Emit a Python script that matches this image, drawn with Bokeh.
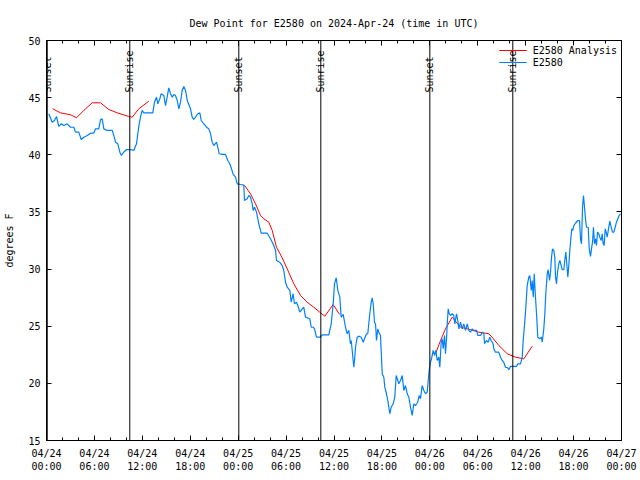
import math
from bokeh.plotting import figure
from bokeh.models import FixedTicker, LinearAxis, Range1d, Legend, LegendItem, Span
from bokeh.embed import file_html
from bokeh.resources import INLINE

FONT = "DejaVu Sans Mono"
NAN = float("nan")

# ---- axis tick data ----
x_tick_hours = [0, 6, 12, 18, 24, 30, 36, 42, 48, 54, 60, 66, 72]
x_tick_dates = ["04/24", "04/24", "04/24", "04/24", "04/25", "04/25", "04/25",
                "04/25", "04/26", "04/26", "04/26", "04/26", "04/27"]
x_tick_times = ["00:00", "06:00", "12:00", "18:00", "00:00", "06:00", "12:00",
                "18:00", "00:00", "06:00", "12:00", "18:00", "00:00"]
x_minor_hours = list(range(0, 73, 2))
y_ticks = [15, 20, 25, 30, 35, 40, 45, 50]

# ---- sunrise / sunset (hours after 2024-04-24 00:00 UTC) ----
sun_events = ["Sunset", "Sunrise", "Sunset", "Sunrise", "Sunset", "Sunrise"]
sun_hours = [0.09, 10.43, 24.08, 34.35, 48.0, 58.39]

# ---- observed dew point E2580 (hours, degF) ----
obs_hours = [
    0.29, 0.71, 1.0, 1.25, 1.54, 1.84, 2.17, 2.59, 3.0, 3.42, 3.63, 4.04, 4.35, 4.67,
    5.1, 5.51, 5.92, 6.14, 6.55, 6.76, 6.97, 7.18, 7.6, 8.23, 8.43, 8.64, 8.93, 9.18,
    9.39, 9.68, 10.02, 10.52, 10.93, 11.27, 11.43, 11.61, 11.77, 11.98, 12.18, 13.02,
    13.31, 13.52, 13.77, 13.94, 14.19, 14.36, 14.69, 14.9, 15.11, 15.31, 15.53, 15.74,
    15.94, 16.15, 16.37, 16.57, 16.78, 16.99, 17.19, 17.41, 17.62, 18.03, 18.24, 18.44,
    18.66, 18.95, 19.2, 19.37, 19.7, 20.04, 20.32, 20.54, 20.75, 20.95, 21.29, 21.45,
    21.63, 22.0, 22.41, 22.7, 22.95, 23.13, 23.38, 23.67, 23.88, 24.29, 24.71, 24.79,
    25.13, 25.33, 25.54, 25.76, 25.88, 26.05, 26.3, 26.46, 26.58, 26.88, 27.64, 28.05,
    28.46, 28.68, 28.8, 29.21, 29.51, 29.71, 29.93, 30.14, 30.47, 30.64, 30.89, 31.05,
    31.3, 31.47, 31.72, 32.02, 32.22, 32.43, 32.97, 33.15, 33.4, 33.56, 33.81, 34.31,
    34.52, 35.35, 35.65, 35.9, 36.06, 36.28, 36.48, 36.73, 36.9, 37.15, 37.44, 37.65,
    37.85, 38.07, 38.16, 38.28, 38.48, 38.57, 38.69, 38.91, 39.11, 39.41, 39.66, 39.82,
    40.07, 40.23, 40.48, 40.66, 40.78, 40.91, 41.07, 41.2, 41.32, 41.48, 41.61, 41.82,
    42.04, 42.24, 42.36, 42.57, 42.74, 42.99, 43.16, 43.41, 43.61, 43.79, 43.99, 44.11,
    44.33, 44.54, 44.74, 44.95, 45.17, 45.37, 45.58, 45.79, 45.99, 46.21, 46.49, 46.67,
    46.83, 47.04, 47.25, 47.46, 47.67, 47.8, 47.92, 48.08, 48.21, 48.42, 48.59, 48.75,
    48.92, 49.12, 49.25, 49.42, 49.55, 49.67, 49.84, 49.96, 50.09, 50.18, 50.3, 50.43,
    50.59, 50.8, 51.0, 51.13, 51.34, 51.5, 51.63, 51.84, 52.05, 52.25, 52.47, 52.68,
    52.88, 53.09, 53.31, 53.51, 53.85, 54.01, 54.35, 54.56, 54.76, 54.85, 55.1, 55.31,
    55.51, 55.68, 55.93, 56.01, 56.22, 56.64, 56.85, 57.06, 57.26, 57.47, 57.76, 57.89,
    58.1, 58.44, 58.85, 59.02, 59.35, 59.57, 59.69, 59.85, 59.98, 60.1, 60.19, 60.39,
    60.52, 60.7, 60.82, 60.95, 61.07, 61.23, 61.36, 61.52, 61.77, 61.98, 62.07, 62.27,
    62.4, 62.52, 62.7, 62.82, 62.99, 63.11, 63.24, 63.36, 63.52, 63.65, 63.74, 63.86,
    63.99, 64.15, 64.28, 64.45, 64.58, 64.78, 64.9, 65.03, 65.15, 65.28, 65.4, 65.53,
    65.65, 65.78, 65.9, 66.03, 66.24, 66.53, 66.74, 66.87, 66.99, 67.12, 67.24, 67.37,
    67.49, 67.62, 67.83, 67.96, 68.12, 68.24, 68.37, 68.49, 68.62, 68.75, 68.87, 69.0,
    69.16, 69.28, 69.46, 69.58, 69.71, 69.83, 69.96, 70.08, 70.21, 70.37, 70.54, 70.71,
    70.87, 71.04, 71.21, 71.37, 71.54, 71.71, 71.88,
]
obs_dewpt = [
    43.59, 42.85, 43.0, 43.35, 42.48, 42.71, 42.56, 42.71, 42.41, 42.41, 41.98, 41.98, 41.34, 41.54,
    41.69, 41.89, 41.89, 42.27, 42.27, 43.06, 43.15, 42.27, 42.13, 42.13, 41.69, 41.1, 40.96, 40.23,
    39.94, 40.23, 40.46, 40.46, 40.38, 40.96, 41.84, 42.71, 43.29, 43.88, 43.67, 43.67,
    43.67, 44.6, 45.04, 44.46, 44.9, 45.34, 45.19, 44.31, 45.04, 45.86, 45.34, 45.04,
    45.28, 45.19, 44.75, 44.02, 44.6, 45.63, 45.98, 45.63, 44.75, 44.02, 43.29, 43.09,
    43.29, 43.59, 43.67, 43.0, 42.71, 42.41, 42.27, 41.84, 41.1, 40.81, 41.1, 40.66,
    40.09, 40.03, 40.03, 39.5, 39.21, 38.86, 38.28, 38.04, 37.46, 37.4, 37.34, 36.0,
    36.15, 36.44, 36.29, 35.71, 35.13, 35.41, 34.98, 34.4, 33.96, 33.14, 33.14, 32.65,
    32.06, 31.63, 30.75, 30.6, 30.31, 29.88, 28.85, 28.41, 28.13, 27.1, 27.84, 26.96,
    27.1, 26.81, 26.23, 26.52, 26.66, 25.79, 25.65, 24.91, 24.91, 24.77, 24.04, 24.04,
    24.25, 24.25, 25.21, 26.96, 28.71, 29.24, 28.13, 27.54, 25.79, 26.03, 24.91, 24.34,
    24.63, 23.46, 23.75, 22.88, 21.41, 22.0, 23.16, 24.04, 24.13, 24.04, 23.6, 23.9,
    24.34, 24.34, 26.09, 27.1, 27.49, 26.96, 25.35, 25.21, 23.75, 24.77, 24.48, 24.19,
    20.84, 20.54, 19.67, 19.09, 18.5, 17.34, 17.91, 18.21, 18.79, 20.69, 20.25, 19.96,
    20.25, 20.69, 19.38, 19.81, 19.09, 18.79, 17.91, 17.19, 18.21, 18.06, 18.35, 18.94,
    18.65, 19.81, 19.38, 19.09, 19.23, 20.25, 21.13, 21.85, 22.15, 22.88, 22.44, 22.88,
    22.0, 22.29, 21.41, 23.6, 23.9, 23.03, 24.19, 22.59, 23.9, 25.21, 26.52, 26.09,
    25.94, 26.09, 25.94, 25.21, 26.09, 25.5, 24.77, 25.35, 24.77, 25.21, 24.63, 25.21,
    24.63, 24.48, 24.77, 24.63, 24.63, 24.19, 24.19, 24.48, 24.34, 23.46, 23.75, 23.6,
    24.04, 23.75, 23.46, 23.03, 22.73, 22.73, 22.29, 22.0, 21.85, 21.41, 21.36, 21.19,
    21.48, 21.48, 21.48, 21.71, 21.71, 22.29, 23.75, 25.06, 26.23, 27.54, 28.56, 29.29,
    29.44, 28.13, 29.0, 27.54, 29.59, 27.54, 26.09, 24.04, 23.9, 24.04, 23.6, 24.77,
    26.09, 27.84, 29.59, 29.94, 29.0, 29.73, 31.04, 31.77, 31.63, 31.04, 29.29, 28.71,
    29.73, 30.46, 30.75, 30.31, 29.94, 29.94, 30.75, 31.48, 30.46, 29.29, 30.31, 31.63,
    32.65, 33.52, 33.38, 33.81, 34.01, 34.25, 34.25, 32.65, 32.21, 35.41, 36.44, 35.41,
    34.4, 33.66, 33.66, 31.77, 31.1, 31.77, 32.35, 33.66, 32.21, 32.65, 32.06, 33.23,
    33.09, 32.79, 32.5, 33.09, 32.21, 32.06, 33.52, 33.23, 32.79, 33.52, 34.19, 33.66,
    33.23, 33.23, 33.66, 34.1, 34.4, 34.69, 34.84,
]

# ---- analysis dew point (three runs, NaN = gap) ----
ana_hours = [
    0.79, 1.75, 3.01, 3.76, 4.67, 5.72, 6.76, 7.8, 8.85, 10.31, 10.73, 11.56, 12.81,
    NAN,
    24.79, 25.54, 26.17, 26.8, 27.21, 27.84, 28.26, 28.8, 29.51, 30.14, 30.97, 31.81,
    32.64, 33.47, 34.31, 34.85, 35.9, 36.69,
    NAN,
    48.71, 49.34, 49.96, 50.8, 51.84, 52.68, 54.13, 55.38, 55.8, 56.64, 57.69, 58.73,
    59.77, 60.82,
]
ana_dewpt = [
    44.02, 43.67, 43.5, 43.24, 43.88, 44.55, 44.55, 43.96, 43.67, 43.35, 43.29, 44.02, 44.69,
    NAN,
    37.34, 36.59, 35.71, 34.69, 34.4, 34.1, 33.38, 31.91, 30.99, 30.02, 28.71, 27.69,
    27.1, 26.66, 26.17, 25.88, 26.9, 26.03,
    NAN,
    22.59, 23.75, 24.77, 25.79, 24.91, 24.77, 24.48, 24.34, 24.04, 23.31, 22.59, 22.29,
    22.15, 23.25,
]

p = figure(width=640, height=480, output_backend="svg", toolbar_location=None,
           x_range=Range1d(0, 72), y_range=Range1d(15, 50),
           min_border_left=46, min_border_right=19, min_border_top=40,
           min_border_bottom=40, x_axis_location=None, y_axis_location=None)
p.background_fill_color = "white"
p.border_fill_color = "white"
p.outline_line_color = "black"
p.outline_line_width = 1
p.xgrid.visible = False
p.ygrid.visible = False

p.title.text = "Dew Point for E2580 on 2024-Apr-24 (time in UTC)"
p.title.align = "center"
p.title.text_font = FONT
p.title.text_font_size = "10px"
p.title.text_font_style = "normal"
p.title.text_color = "black"
p.title.standoff = 23

xt = FixedTicker(ticks=x_tick_hours, minor_ticks=x_minor_hours)
yt = FixedTicker(ticks=y_ticks, minor_ticks=[])


def style_axis(ax, labels):
    ax.axis_line_color = None
    ax.major_tick_in = 5
    ax.major_tick_out = 0
    ax.minor_tick_in = 3
    ax.minor_tick_out = 0
    ax.major_tick_line_color = "black"
    ax.minor_tick_line_color = "black"
    ax.major_label_text_font = FONT
    ax.major_label_text_font_size = "10px"
    ax.major_label_text_color = "black"
    ax.major_label_overrides = labels


bottom = LinearAxis(ticker=xt)
style_axis(bottom, {h: d + "\n" + t for h, d, t in zip(x_tick_hours, x_tick_dates, x_tick_times)})
bottom.major_label_standoff = 7
top = LinearAxis(ticker=xt)
style_axis(top, {h: "" for h in x_tick_hours})
left = LinearAxis(ticker=yt, axis_label="degrees F")
style_axis(left, {v: str(v) for v in y_ticks})
left.major_label_standoff = 6
left.axis_label_text_font = FONT
left.axis_label_text_font_size = "10px"
left.axis_label_text_font_style = "normal"
left.axis_label_text_color = "black"
left.axis_label_standoff = 10
right = LinearAxis(ticker=yt)
style_axis(right, {v: "" for v in y_ticks})
p.add_layout(bottom, "below")
p.add_layout(top, "above")
p.add_layout(left, "left")
p.add_layout(right, "right")

for h in sun_hours:
    p.add_layout(Span(location=h, dimension="height", line_color="black", line_width=1))

p.text(x=sun_hours, y=[45.45] * len(sun_hours), text=sun_events, angle=math.pi / 2,
       text_align="left", text_baseline="middle", text_font={"value": FONT},
       text_font_size="10px", text_color="black")

red = p.line(ana_hours, ana_dewpt, line_color="#ff0000", line_width=1)
blue = p.line(obs_hours, obs_dewpt, line_color="#0080ff", line_width=1.2)

legend = Legend(items=[LegendItem(label="E2580 Analysis", renderers=[red]),
                       LegendItem(label="E2580", renderers=[blue])],
                location="top_right", border_line_color=None, background_fill_alpha=0,
                label_text_font=FONT, label_text_font_size="10px", label_text_color="black",
                glyph_width=28, glyph_height=12, label_height=12, spacing=0,
                padding=2, margin=4, label_standoff=6)
p.add_layout(legend)

open("out.html", "w").write(file_html(p, INLINE))
